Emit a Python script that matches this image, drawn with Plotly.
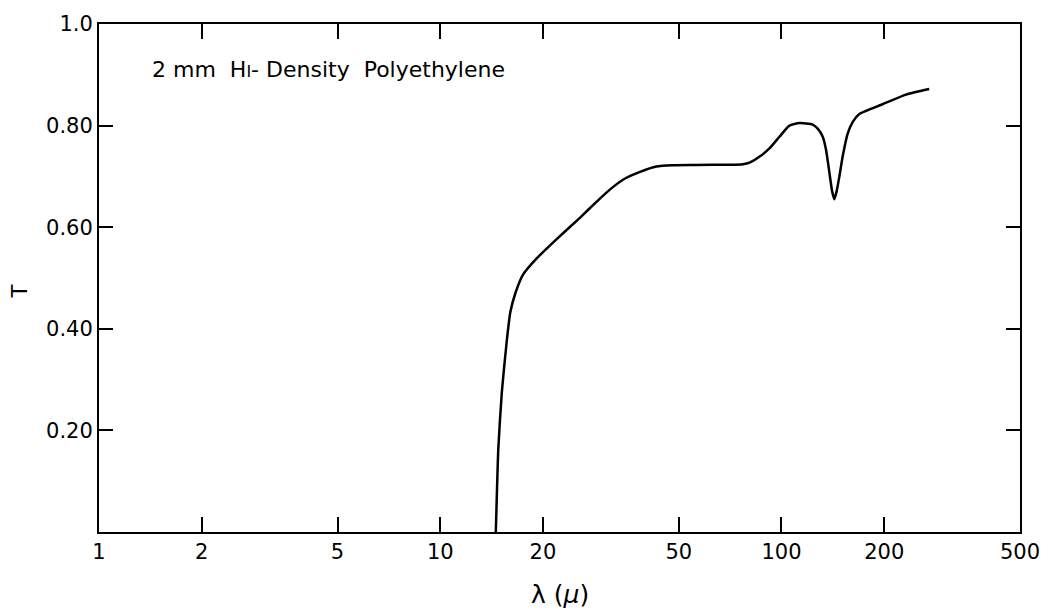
import plotly.graph_objects as go

# Wavelength (microns) and transmission
wavelength = [14.55, 14.8, 15.15, 15.66, 16.05, 16.6, 17.5, 19.2, 21.9, 25.7, 28.7, 31.4,
              34.4, 38.5, 43.0, 48.0, 56.0, 70.5, 77.1, 80.6, 86.3, 92.2, 98.6, 105.5,
              112.9, 123.4, 127.7, 132.1, 135.1, 138.2, 140.7, 142.9, 145.1, 147.8, 151.1,
              156.3, 161.6, 169.1, 197.8, 231.6, 270.9]
transmission = [0.0, 0.165, 0.275, 0.375, 0.433, 0.47, 0.507, 0.539, 0.576, 0.619, 0.650, 0.674,
                0.694, 0.709, 0.7195, 0.722, 0.7225, 0.723, 0.724, 0.727, 0.739, 0.755, 0.778, 0.800,
                0.805, 0.802, 0.794, 0.778, 0.752, 0.707, 0.671, 0.655, 0.671, 0.700, 0.739,
                0.784, 0.807, 0.823, 0.842, 0.861, 0.872]

x_tick_vals = [1, 2, 5, 10, 20, 50, 100, 200, 500]
x_tick_text = ["1", "2", "5", "10", "20", "50", "100", "200", "500"]
y_tick_vals = [0.2, 0.4, 0.6, 0.8, 1.0]
y_tick_text = ["0.20", "0.40", "0.60", "0.80", "1.0"]

FONT = "DejaVu Sans, sans-serif"

fig = go.Figure()
fig.add_trace(go.Scatter(
    x=wavelength, y=transmission, mode="lines",
    line=dict(color="black", width=2.5, shape="spline", smoothing=0.5),
    hoverinfo="skip", showlegend=False,
))

fig.update_xaxes(
    type="log", range=[0, 2.69897],
    tickvals=x_tick_vals, ticktext=x_tick_text,
    ticks="inside", ticklen=15, tickwidth=2, tickcolor="black",
    showline=True, linecolor="black", linewidth=2, mirror="ticks",
    showgrid=False, zeroline=False,
    tickfont=dict(family=FONT, size=21, color="black"),
)
fig.update_yaxes(
    range=[0, 1.0],
    tickvals=y_tick_vals, ticktext=y_tick_text,
    ticks="inside", ticklen=14, tickwidth=2, tickcolor="black",
    showline=True, linecolor="black", linewidth=2, mirror="ticks",
    showgrid=False, zeroline=False,
    tickfont=dict(family=FONT, size=21, color="black"),
)

fig.add_annotation(
    xref="paper", yref="paper", x=0.055, y=0.911, xanchor="left", yanchor="middle",
    text="2 mm  H<span style='font-size:16px'>I</span>- Density  Polyethylene",
    showarrow=False, font=dict(family=FONT, size=22, color="black"),
)
fig.add_annotation(
    xref="paper", yref="paper", x=0.501, y=-0.124, xanchor="center", yanchor="middle",
    text="λ (<i>μ</i>)", showarrow=False, font=dict(family=FONT, size=25, color="black"),
)
fig.add_annotation(
    xref="paper", yref="paper", x=-0.0855, y=0.474, xanchor="center", yanchor="middle",
    text="T", textangle=-90, showarrow=False, font=dict(family=FONT, size=21, color="black"),
)

fig.update_layout(
    width=1052, height=610,
    margin=dict(l=99, r=29, t=16, b=78),
    paper_bgcolor="white", plot_bgcolor="white",
)

fig.write_html("out.html")
